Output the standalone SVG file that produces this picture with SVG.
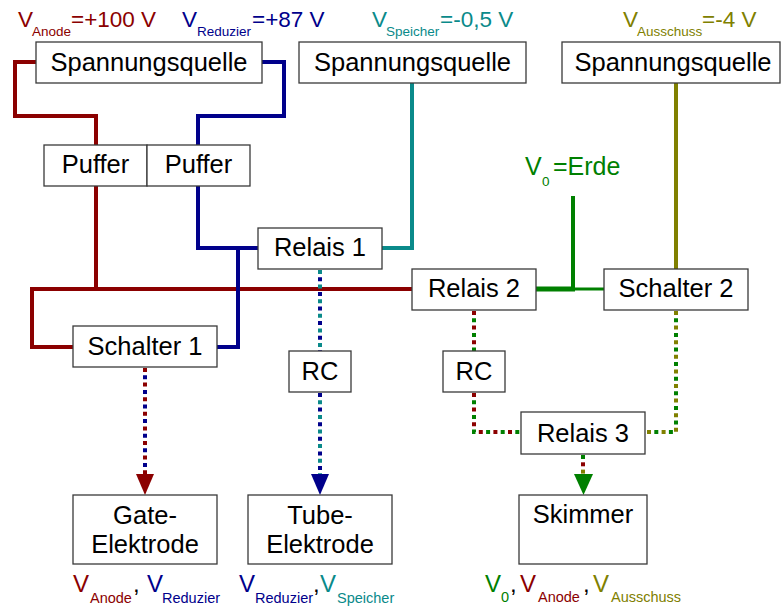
<svg xmlns="http://www.w3.org/2000/svg" width="781" height="607" viewBox="0 0 781 607">
<style>
  .box{fill:#fff;stroke:#3a3a3a;stroke-width:1.3}
  .lbl{font-family:"Liberation Sans",Arial,sans-serif;font-size:25.5px;fill:#000;text-anchor:middle}
  .t{font-family:"Liberation Sans",Arial,sans-serif}
  .big{font-size:22.5px}
  .sub{font-size:13.5px}
  .bbig{font-size:24px}
  .bsub{font-size:14.5px}
  .w{fill:none;stroke-width:4;stroke-linejoin:miter;stroke-linecap:butt}
  .d{fill:none;stroke-width:4;stroke-dasharray:4 10.6}
  .d2{stroke-dashoffset:-7.3}
  .d3a{fill:none;stroke-width:4;stroke-dasharray:4 18}
  .d3b{stroke-dashoffset:-7.3}
  .d3c{stroke-dashoffset:-14.6}
  .cr{stroke:#8b0000}.fr{fill:#8b0000}
  .cb{stroke:#00008b}.fb{fill:#00008b}
  .ct{stroke:#0a8a8a}.ft{fill:#0a8a8a}
  .co{stroke:#808000}.fo{fill:#808000}
  .cg{stroke:#008000}.fg{fill:#008000}
  .fk{fill:#000}
</style>

<g id="connectors">
  <!-- solid wires -->
  <path class="w cr" d="M36,62 H15 V116 H96 V145"/>
  <path class="w cr" d="M96,186 V289 M412,289 H32 V347 H73"/>
  <path class="w cb" d="M262,62 H284 V116 H198 V145"/>
  <path class="w cb" d="M198,186 V248 H258 M238,248 V347 H217"/>
  <path class="w ct" d="M412,83 V248 H382"/>
  <path class="w co" d="M676,83 V269"/>
  <path class="w cg" d="M573,196 V289"/>
  <path class="cg" fill="none" stroke-width="5" d="M536,289 H575"/>
  <path class="cg" fill="none" stroke-width="3" d="M573,289 H604"/>
  <!-- dotted -->
  <path class="d cr" d="M145,368 V474"/>
  <path class="d d2 cb" d="M145,368 V474"/>
  <path class="d ct" d="M320,270 V351"/>
  <path class="d d2 cb" d="M320,270 V351"/>
  <path class="d cb" d="M320,393 V474"/>
  <path class="d d2 ct" d="M320,393 V474"/>
  <path class="d cr" d="M474,311 V351"/>
  <path class="d d2 cg" d="M474,311 V351"/>
  <path class="d cr" d="M474,393 V432 H521"/>
  <path class="d d2 cg" d="M474,393 V432 H521"/>
  <path class="d co" d="M676,311 V432 H645"/>
  <path class="d d2 cg" d="M676,311 V432 H645"/>
  <path class="d3a cg" d="M583,455 V475"/>
  <path class="d3a d3b cr" d="M583,455 V475"/>
  <path class="d3a d3c co" d="M583,455 V475"/>
  <!-- arrowheads -->
  <polygon class="fr" points="136,474 154,474 145,495"/>
  <polygon class="fb" points="311,474 329,474 320,495"/>
  <polygon class="fg" points="574,474 593,474 583.5,495"/>
</g>

<g id="src1"><rect class="box" x="36" y="42" width="226" height="41"/><text class="lbl" x="149" y="71">Spannungsquelle</text></g>
<g id="src2"><rect class="box" x="299" y="42" width="227" height="41"/><text class="lbl" x="412.5" y="71">Spannungsquelle</text></g>
<g id="src3"><rect class="box" x="562" y="42" width="218" height="41"/><text class="lbl" x="673" y="71">Spannungsquelle</text></g>
<g id="puffer1"><rect class="box" x="44" y="145" width="103" height="41"/><text class="lbl" x="95.5" y="173">Puffer</text></g>
<g id="puffer2"><rect class="box" x="147" y="145" width="103" height="41"/><text class="lbl" x="198.5" y="173">Puffer</text></g>
<g id="relais1"><rect class="box" x="258" y="228" width="124" height="41"/><text class="lbl" x="320" y="256">Relais 1</text></g>
<g id="relais2"><rect class="box" x="412" y="269" width="124" height="41"/><text class="lbl" x="474" y="297">Relais 2</text></g>
<g id="schalter2"><rect class="box" x="604" y="269" width="144" height="41"/><text class="lbl" x="676" y="297">Schalter 2</text></g>
<g id="schalter1"><rect class="box" x="73" y="326" width="144" height="41"/><text class="lbl" x="145" y="355">Schalter 1</text></g>
<g id="rc1"><rect class="box" x="289" y="351" width="62" height="41"/><text class="lbl" x="320" y="380">RC</text></g>
<g id="rc2"><rect class="box" x="443" y="351" width="62" height="41"/><text class="lbl" x="474" y="380">RC</text></g>
<g id="relais3"><rect class="box" x="521" y="412" width="124" height="42"/><text class="lbl" x="583" y="442">Relais 3</text></g>
<g id="gate"><rect class="box" x="73" y="495" width="144" height="69"/><text class="lbl" x="145" y="524">Gate-</text><text class="lbl" x="145" y="553">Elektrode</text></g>
<g id="tube"><rect class="box" x="248" y="495" width="144" height="69"/><text class="lbl" x="320" y="524">Tube-</text><text class="lbl" x="320" y="553">Elektrode</text></g>
<g id="skimmer"><rect class="box" x="519" y="495" width="128" height="69"/><text class="lbl" x="583" y="523">Skimmer</text></g>

<g id="labels-top" class="t">
  <text class="fr"><tspan class="big" x="18" y="27">V</tspan><tspan class="sub" x="32" y="36">Anode</tspan><tspan class="big" x="71" y="27">=+100 V</tspan></text>
  <text class="fb"><tspan class="big" x="182" y="27">V</tspan><tspan class="sub" x="197" y="36">Reduzier</tspan><tspan class="big" x="252" y="27">=+87 V</tspan></text>
  <text class="ft"><tspan class="big" x="372" y="27">V</tspan><tspan class="sub" x="386" y="36">Speicher</tspan><tspan class="big" x="440" y="27">=-0,5 V</tspan></text>
  <text class="fo"><tspan class="big" x="623" y="27">V</tspan><tspan class="sub" x="637" y="36">Ausschuss</tspan><tspan class="big" x="702" y="27">=-4 V</tspan></text>
  <text class="fg"><tspan style="font-size:25px" x="525" y="175">V</tspan><tspan class="sub" x="542" y="186">0</tspan><tspan style="font-size:25px" x="553" y="175">=Erde</tspan></text>
</g>

<g id="labels-bottom" class="t">
  <text><tspan class="bbig fr" x="73" y="592">V</tspan><tspan class="bsub fr" x="90" y="603">Anode</tspan><tspan class="bbig fk" x="133" y="592">,</tspan><tspan class="bbig fb" x="147" y="592">V</tspan><tspan class="bsub fb" x="162" y="603">Reduzier</tspan></text>
  <text><tspan class="bbig fb" x="239" y="592">V</tspan><tspan class="bsub fb" x="255" y="603">Reduzier</tspan><tspan class="bbig fk" x="313" y="592">,</tspan><tspan class="bbig ft" x="320" y="592">V</tspan><tspan class="bsub ft" x="337" y="603">Speicher</tspan></text>
  <text><tspan class="bbig fg" x="485" y="592">V</tspan><tspan class="bsub fg" x="501" y="602">0</tspan><tspan class="bbig fk" x="510" y="592">,</tspan><tspan class="bbig fr" x="520" y="592">V</tspan><tspan class="bsub fr" x="538" y="602">Anode</tspan><tspan class="bbig fk" x="583" y="592">,</tspan><tspan class="bbig fo" x="593" y="592">V</tspan><tspan class="bsub fo" x="611" y="602">Ausschuss</tspan></text>
</g>
</svg>
